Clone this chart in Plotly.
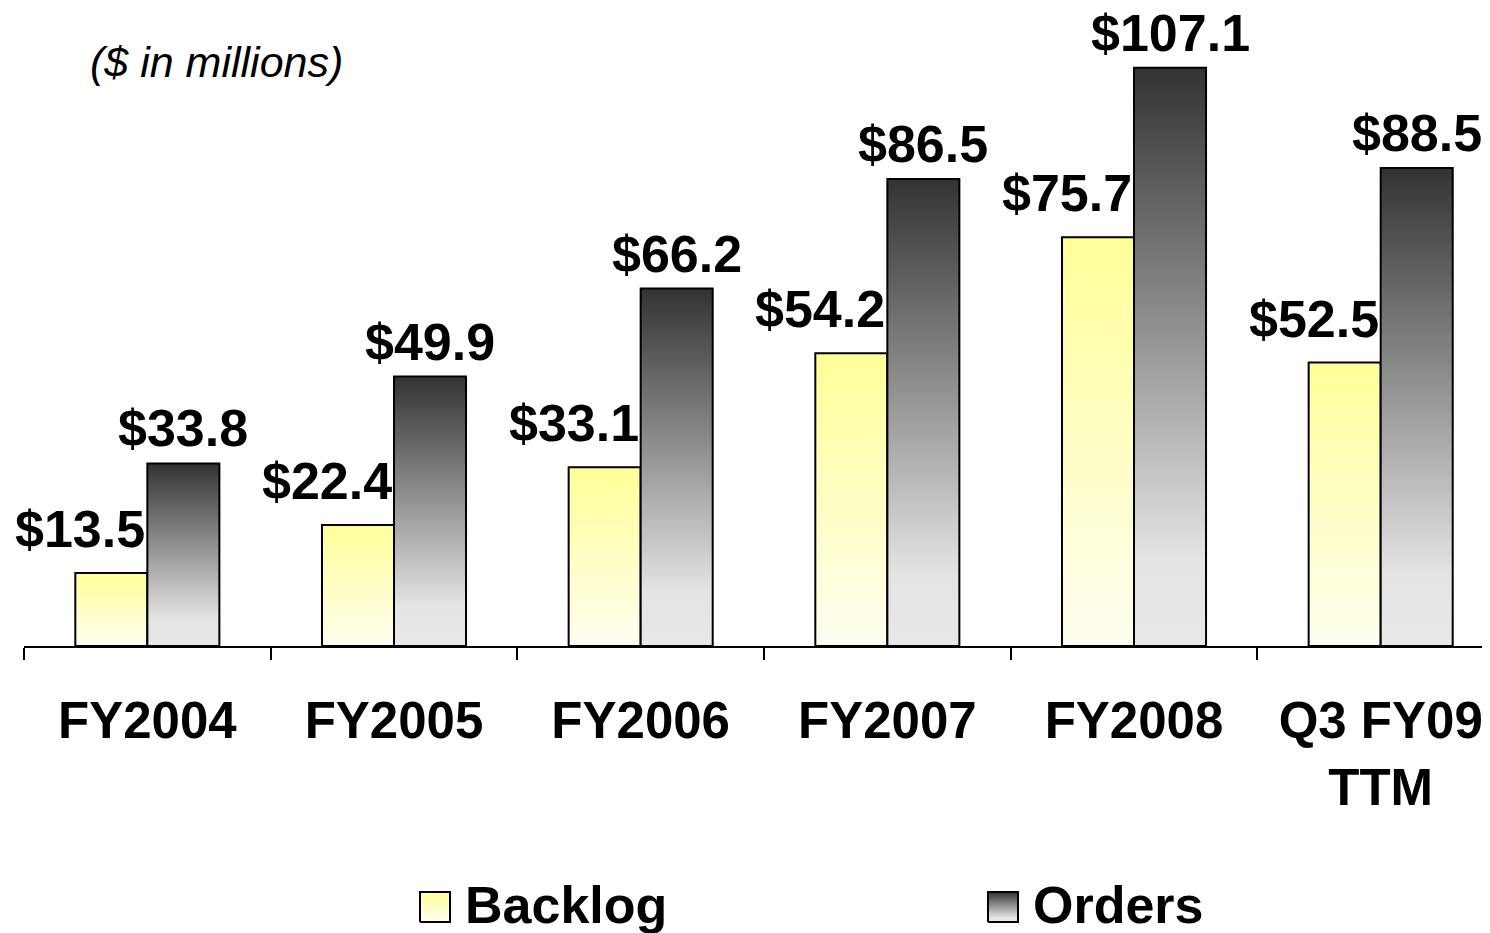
import plotly.graph_objects as go

# data ($ in millions)
categories = ["FY2004", "FY2005", "FY2006", "FY2007", "FY2008", "Q3 FY09<br>TTM"]
backlog = [13.5, 22.4, 33.1, 54.2, 75.7, 52.5]
orders = [33.8, 49.9, 66.2, 86.5, 107.1, 88.5]

# the page adds an 8px body margin, so the figure is a bit smaller and
# everything measured on the reference is shifted by OFF
OFF = 8
W, H = 1490 - OFF, 933 - OFF
FONT = "Liberation Sans, Arial, sans-serif"
BAR_W = 0.292  # width of one bar in category units
GROUP_PX = 246.67
X_LEFT = 24 - OFF
BASELINE = 646 - OFF
PX_PER_UNIT = 5.4

backlog_scale = [[0, "#fefef0"], [1, "#ffff99"]]
orders_scale = [[0, "#e8e8e8"], [0.15, "#e4e4e4"], [1, "#333333"]]


def bar_trace(x0, x1, top, scale, xaxis="x", yaxis="y", bottom=0):
    # one rectangle with its own vertical gradient
    return go.Scatter(
        x=[x0, x0, x1, x1, x0],
        y=[bottom, top, top, bottom, bottom],
        mode="lines",
        fill="toself",
        fillgradient=dict(type="vertical", colorscale=scale),
        line=dict(color="black", width=2),
        xaxis=xaxis, yaxis=yaxis,
        hoverinfo="skip",
        showlegend=False,
    )


fig = go.Figure()
annotations = []

for i, (b, o) in enumerate(zip(backlog, orders)):
    fig.add_trace(bar_trace(i - BAR_W, i, b, backlog_scale))
    fig.add_trace(bar_trace(i, i + BAR_W, o, orders_scale))
    annotations.append(dict(
        x=i, y=b, xref="x", yref="y", text=f"<b>${b:.1f}</b>",
        showarrow=False, xanchor="right", yanchor="bottom", yshift=13,
        font=dict(size=52, family=FONT, color="black")))
    annotations.append(dict(
        x=i + BAR_W / 2, y=o, xref="x", yref="y", text=f"<b>${o:.1f}</b>",
        showarrow=False, xanchor="center", yanchor="bottom", yshift=5, borderpad=0,
        font=dict(size=52, family=FONT, color="black")))

# custom legend (big gradient keys) drawn on a pixel-space overlay axis
legend_items = [("Backlog", backlog_scale, 420 - OFF), ("Orders", orders_scale, 988 - OFF)]
for name, scale, lx in legend_items:
    fig.add_trace(bar_trace(lx, lx + 30, 892 - OFF, scale, "x2", "y2", bottom=922 - OFF))
    annotations.append(dict(
        x=lx + 43, y=905 - OFF, xref="x2", yref="y2", text=f"<b>{name}</b>",
        showarrow=False, xanchor="left", yanchor="middle",
        font=dict(size=52, family=FONT, color="black")))

annotations.append(dict(
    x=(88 - OFF) / W, y=1 - (62 - OFF) / H, xref="paper", yref="paper",
    text="<i>($ in millions)</i>",
    showarrow=False, xanchor="left", yanchor="middle",
    font=dict(size=43, family=FONT, color="black")))

fig.update_layout(
    width=W, height=H,
    margin=dict(l=0, r=0, t=0, b=0),
    paper_bgcolor="white",
    plot_bgcolor="rgba(0,0,0,0)",
    showlegend=False,
    annotations=annotations,
    xaxis=dict(
        domain=[X_LEFT / W, 1],
        range=[-0.5, -0.5 + (W - X_LEFT) / GROUP_PX],
        tickmode="array",
        tickvals=list(range(len(categories))),
        ticktext=[f"<b>{c}</b>" for c in categories],
        tickfont=dict(size=51, family=FONT, color="black"),
        ticks="outside", ticklen=29, tickcolor="rgba(0,0,0,0)",
        minor=dict(tickmode="linear", tick0=-0.5, dtick=1, ticks="outside",
                   ticklen=12, tickwidth=2, tickcolor="black"),
        showline=True, linecolor="black", linewidth=2,
        showgrid=False, zeroline=False, fixedrange=True,
        anchor="y",
    ),
    yaxis=dict(
        domain=[1 - BASELINE / H, 1],
        range=[0, BASELINE / PX_PER_UNIT],
        visible=False, fixedrange=True,
        anchor="x",
    ),
    xaxis2=dict(domain=[0, 1], range=[0, W], visible=False, fixedrange=True, anchor="y2"),
    yaxis2=dict(domain=[0, 1], range=[H, 0], visible=False, fixedrange=True, anchor="x2"),
)

fig.write_html("out.html")
